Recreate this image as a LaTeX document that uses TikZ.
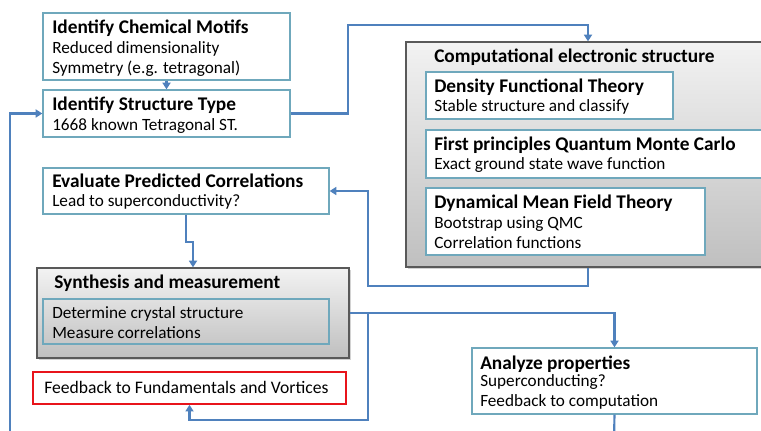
\documentclass[tikz,border=0pt]{standalone}
\usepackage{fontspec}
\setmainfont{Carlito}
\usetikzlibrary{arrows.meta,positioning,fit,shadows}
\definecolor{linkblue}{HTML}{4F81BD}
\definecolor{boxteal}{HTML}{6FA8BC}
\definecolor{panelgray}{HTML}{595959}
\definecolor{alertred}{HTML}{E8141B}
\tikzset{
  box/.style={draw=boxteal, line width=1pt, fill=white, inner sep=0pt},
  subbox/.style={draw=boxteal, line width=1pt, inner sep=0pt},
  panel/.style={draw=panelgray, line width=1pt, inner sep=0pt,
    top color=gray!10, bottom color=gray!50,
    drop shadow={shadow xshift=1.2pt, shadow yshift=-1.2pt, opacity=0.35}},
  alert/.style={draw=alertred, line width=1.2pt, fill=white, inner sep=0pt},
  hd/.style={anchor=base west, inner sep=0pt, font=\fontsize{14.5}{17}\selectfont\bfseries},
  bd/.style={anchor=base west, inner sep=0pt, align=left, font=\fontsize{12.9}{15}\selectfont},
  link/.style={-{Triangle[length=5pt, width=6pt]}, line width=1.6pt, draw=linkblue},
  wire/.style={line width=1.6pt, draw=linkblue},
}

\begin{document}
\begin{tikzpicture}[x=0.75pt, y=-0.75pt]
\clip (0,0) rectangle (761,431);
\fill[white] (0,0) rectangle (761,431);

% ---------- left column ----------
\node[box, fit={(43,13) (290,80)}] (motifs) {};
\node[hd] (motifs-h) at (52,34) {Identify Chemical Motifs};
\node[bd] (motifs-b) at (52,74) {Reduced dimensionality\\Symmetry (e.g. tetragonal)};

\node[box, fit={(43,90) (290,137)}] (stype) {};
\node[hd] (stype-h) at (52,111) {Identify Structure Type};
\node[bd] (stype-b) at (52,131) {1668 known Tetragonal ST.};

\node[box, fit={(43,168) (329,214)}] (eval) {};
\node[hd] (eval-h) at (52,188) {Evaluate Predicted Correlations};
\node[bd] (eval-b) at (52,207) {Lead to superconductivity?};

\node[panel, fit={(37,268) (349,358)}] (synth) {};
\node[hd] (synth-h) at (54,289) {Synthesis and measurement};
\node[subbox, fit={(43,299) (329,344)}] (meas) {};
\node[bd] (meas-b) at (52,338) {Determine crystal structure\\Measure correlations};

\node[alert, fit={(33,372) (346,404)}] (fbk) {};
\node[bd, font=\fontsize{13.2}{15}\selectfont] (fbk-b) at (44,393) {Feedback to Fundamentals and Vortices};

% ---------- right column ----------
\node[panel, fit={(406,42) (770,267)}] (comp) {};
\node[hd] (comp-h) at (434,63) {Computational electronic structure};

\node[box, fit={(426,72) (673,119)}] (dft) {};
\node[hd] (dft-h) at (434,93) {Density Functional Theory};
\node[bd] (dft-b) at (434,112) {Stable structure and classify};

\node[box, fit={(426,130) (770,178)}] (qmc) {};
\node[hd] (qmc-h) at (434,151) {First principles Quantum Monte Carlo};
\node[bd] (qmc-b) at (434,170) {Exact ground state wave function};

\node[box, fit={(426,188) (705,255)}] (dmft) {};
\node[hd] (dmft-h) at (434,209) {Dynamical Mean Field Theory};
\node[bd] (dmft-b) at (434,248) {Bootstrap using QMC\\Correlation functions};

\node[box, fit={(472,348) (757,414)}] (analyze) {};
\node[hd] (analyze-h) at (480,369) {Analyze properties};
\node[bd] (analyze-b) at (480,406) {Superconducting?\\Feedback to computation};

% ---------- connectors ----------
\coordinate (loop) at (10,440);
\coordinate (split) at (368,313);
\coordinate (out) at (614,440);

\draw[link] (motifs.south) -- (stype.north);
\draw[link] (loop) |- (stype.west);
\draw[link] (stype.east) -- (348,0 |- stype.east) -- (348,25) -| (comp.north);
\draw[link] (comp.south) |- (368,286) |- (eval.east);
\draw[link] (eval.south) -- ++(0,27) -| (synth.north);
\draw[link] (synth.east) -| (analyze.north);
\draw[link] (split) -- (368,420) -| (fbk.south);
\draw[wire] (analyze.south) -- (out);
\end{tikzpicture}
\end{document}
